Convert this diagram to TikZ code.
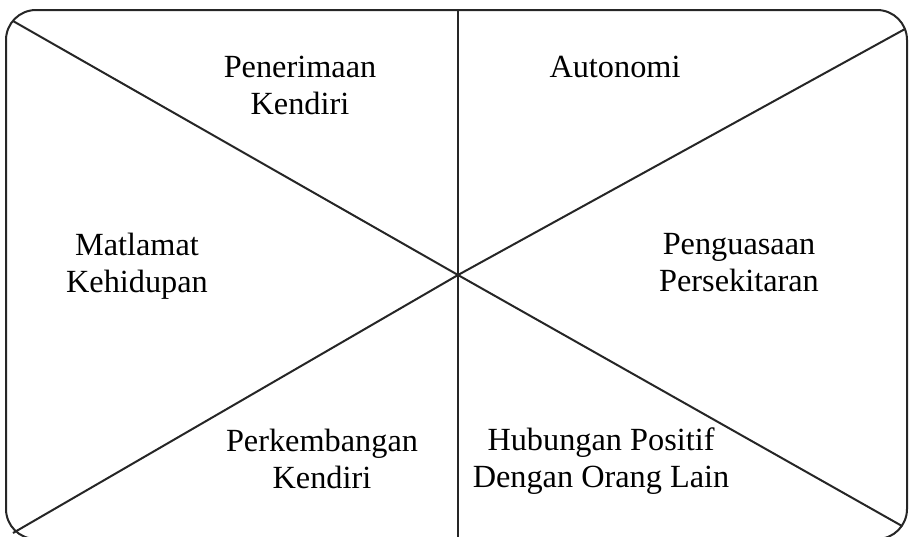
\documentclass[tikz,border=0pt]{standalone}
\usepackage{fontspec}
\setmainfont{Liberation Serif}
\begin{document}
\begin{tikzpicture}[x=1pt,y=-1pt,
	label/.style={anchor=base,align=center,font=\fontsize{32.3}{37}\selectfont},
	edge/.style={line width=2pt,draw=black!85}]
	\useasboundingbox (0,0) rectangle (910,536);
	
	% Outer frame
	\draw[edge,rounded corners=30pt] (6,10) rectangle (907,539);
	
	% Centre and end points of the dividing lines
	\coordinate (mid) at (458,275);
	\coordinate (tl) at (13,21);
	\coordinate (br) at (902,526);
	\coordinate (tr) at (905,29);
	\coordinate (bl) at (13,533);
	\coordinate (top) at (458,10);
	\coordinate (bot) at (458,539);
	
	% Dividing lines
	\draw[edge] (top) -- (bot);
	\draw[edge] (tl) -- (mid) -- (br);
	\draw[edge] (tr) -- (mid) -- (bl);
	
	% Labels (base = baseline of the last line)
	\node[label] (penerimaan) at (300,114) {Penerimaan\\Kendiri};
	\node[label] (autonomi) at (615,77) {Autonomi};
	\node[label] (matlamat) at (137,292) {Matlamat\\Kehidupan};
	\node[label] (penguasaan) at (739,291) {Penguasaan\\Persekitaran};
	\node[label] (perkembangan) at (322,488) {Perkembangan\\Kendiri};
	\node[label] (hubungan) at (601,487) {Hubungan Positif\\Dengan Orang Lain};
\end{tikzpicture}
\end{document}
